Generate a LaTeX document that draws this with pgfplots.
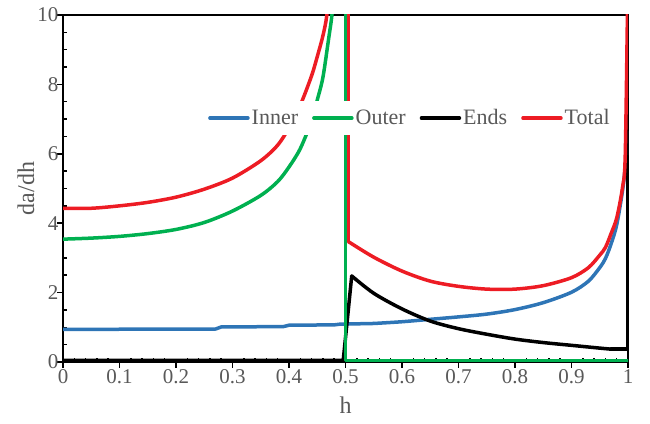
\documentclass[border=0pt]{standalone}
\usepackage{pgfplots}
\pgfplotsset{compat=1.18}
\usepackage{fontspec}
\setmainfont{Liberation Serif}
\definecolor{cInner}{RGB}{46,117,182}
\definecolor{cOuter}{RGB}{0,176,80}
\definecolor{cTotal}{RGB}{237,28,36}
\definecolor{txt}{RGB}{89,89,89}
\begin{document}
\begin{tikzpicture}
\begin{axis}[
  scale only axis, width=565pt, height=347pt,
  xmin=0, xmax=1, ymin=0, ymax=10,
  xtick={0,0.1,0.2,0.3,0.4,0.5,0.6,0.7,0.8,0.9,1},
  xticklabels={0,0.1,0.2,0.3,0.4,0.5,0.6,0.7,0.8,0.9,1},
  ytick={0,2,4,6,8,10},
  minor x tick num=4, minor y tick num=3,
  xtick pos=bottom, ytick pos=left,
  tick align=inside,
  major tick length=-6pt, minor tick length=4pt,
  every tick/.style={black, line width=1.5pt},
  axis line style={line width=2.5pt},
  /pgf/number format/assume math mode=true,
  tick label style={font=\fontsize{21}{24}\selectfont, text=txt},
  xticklabel style={yshift=-4pt},
  yticklabel style={xshift=-1pt},
  xlabel={h}, ylabel={da/dh},
  label style={font=\fontsize{24}{28}\selectfont, text=txt},
  xlabel style={at={(axis description cs:0.5,-0.124)}, anchor=center},
  ylabel style={at={(axis description cs:-0.0655,0.5)}, anchor=center},
  legend style={at={(axis cs:0.614,7.03)}, anchor=center, draw=none, fill=white,
    font=\fontsize{22}{26}\selectfont, text=txt, inner xsep=2pt, inner ysep=7pt,
    /tikz/every even column/.append style={column sep=12pt}},
  legend columns=4,
  legend image code/.code={\draw[#1, line cap=round] (0pt,0pt) -- (38pt,0pt);},
  every axis plot/.append style={line width=3.5pt, line join=round, line cap=round},
]
% Inner
\addplot[cInner] coordinates {
(0,0.94) (0.27,0.95) (0.28,1.01) (0.39,1.02) (0.40,1.06) (0.48,1.07) (0.49,1.09) (0.55,1.11)};
\addlegendentry{Inner}
% Outer (left branch)
\addplot[cOuter, smooth, tension=0.5] coordinates {
(0,3.54) (0.05,3.57) (0.1,3.62) (0.15,3.70) (0.2,3.82) (0.25,4.02) (0.3,4.35)
(0.35,4.80) (0.38,5.20) (0.40,5.62) (0.42,6.15) (0.44,6.95) (0.45,7.55) (0.46,8.2)
(0.47,9.3) (0.476,10) (0.481,11)};
\addlegendentry{Outer}
% Ends
\addplot[black] coordinates {(0,0.05) (0.496,0.05) (0.511,2.48)};
\addlegendentry{Ends}
% Total (left branch)
\addplot[cTotal, smooth, tension=0.5] coordinates {
(0,4.43) (0.05,4.43) (0.1,4.50) (0.15,4.60) (0.2,4.75) (0.25,4.98) (0.3,5.30)
(0.35,5.80) (0.38,6.25) (0.40,6.75) (0.42,7.40) (0.44,8.25) (0.45,8.8) (0.46,9.4)
(0.467,10) (0.471,11)};
\addlegendentry{Total}
% Inner (right part)
\addplot[cInner, smooth, tension=0.5, forget plot] coordinates {
(0.55,1.11) (0.60,1.16) (0.65,1.23) (0.70,1.30) (0.75,1.38) (0.80,1.51) (0.85,1.71)
(0.90,2.01) (0.93,2.33) (0.95,2.72) (0.96,2.98) (0.97,3.4) (0.98,3.95) (0.99,4.9)
(0.995,5.6) (1.0,6.6)};
% Outer (drop and flat part)
\addplot[cOuter, forget plot] coordinates {(0.5,10.5) (0.5,0.05) (1.0,0.05)};
% Ends (right part)
\addplot[black, smooth, tension=0.5, forget plot] coordinates {
(0.511,2.48) (0.55,1.98) (0.60,1.53) (0.65,1.18) (0.70,0.96)
(0.75,0.80) (0.80,0.66) (0.85,0.56) (0.90,0.48) (0.95,0.40) (0.97,0.37)};
\addplot[black, forget plot] coordinates {(0.97,0.37) (1.0,0.37) (1.0,10)};
% Total (drop and right branch)
\addplot[cTotal, forget plot] coordinates {(0.505,10.5) (0.505,3.47)};
\addplot[cTotal, smooth, tension=0.5, forget plot] coordinates {
(0.505,3.47) (0.55,3.02) (0.60,2.62) (0.65,2.33)
(0.70,2.18) (0.75,2.10) (0.80,2.10) (0.85,2.20) (0.90,2.43) (0.93,2.72) (0.95,3.08)
(0.96,3.30) (0.97,3.7) (0.98,4.15) (0.99,5.0) (0.995,5.9) (0.999,10) (1.0,10.5)};
\end{axis}
\path ([xshift=-63pt,yshift=-62pt]current axis.south west) rectangle ([xshift=22pt,yshift=15pt]current axis.north east);
\end{tikzpicture}
\end{document}
